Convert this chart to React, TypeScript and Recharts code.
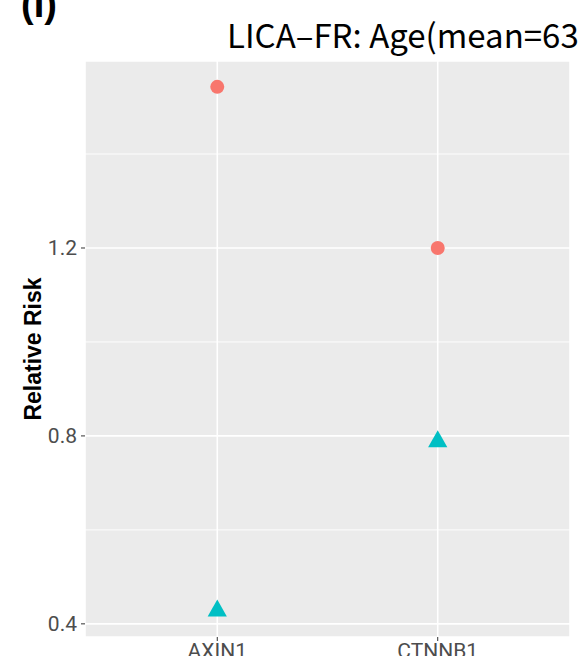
import React from 'react';
import {
  ScatterChart,
  Scatter,
  XAxis,
  YAxis,
  CartesianGrid,
  ReferenceLine,
} from 'recharts';

const genes = ['AXIN1', 'CTNNB1'];
const circleRisk = [1.543, 1.2];
const triangleRisk = [0.428, 0.788];
const yTicks = [0.4, 0.8, 1.2];
const minorTicks = [0.6, 1.0, 1.4];

const W = 580;
const H = 656;

const circleData = genes.map((g, i) => ({ x: i + 1, y: circleRisk[i], gene: g }));
const triangleData = genes.map((g, i) => ({ x: i + 1, y: triangleRisk[i], gene: g }));

const Dot = (props: any) => (
  <circle cx={props.cx} cy={props.cy} r={7} fill="#F8766D" />
);

// centroid sits on the data point, like R's filled triangle
const Tri = (props: any) => {
  const { cx, cy } = props;
  const d = `M${cx},${cy - 11.3} L${cx + 9.6},${cy + 5.7} L${cx - 9.6},${cy + 5.7} Z`;
  return <path d={d} fill="#00BFC4" />;
};

const tickStyle = { fill: '#4D4D4D', fontSize: 21, fontFamily: 'Roboto, sans-serif' };

const App: React.FC = () => {
  return (
    <div style={{ position: 'absolute', left: 0, top: 0, width: W, height: H, background: '#fff', overflow: 'hidden' }}>
      <ScatterChart width={W} height={H} margin={{ top: 61, right: 10, bottom: 0, left: 0 }}>
        <CartesianGrid fill="#EBEBEB" stroke="#FFFFFF" strokeWidth={1.6} />
        {minorTicks.map((v) => (
          <ReferenceLine key={v} y={v} stroke="#FFFFFF" strokeWidth={0.9} />
        ))}
        <XAxis
          type="number"
          dataKey="x"
          domain={[0.4, 2.6]}
          ticks={[1, 2]}
          tickFormatter={(v: number) => genes[v - 1]}
          height={19}
          axisLine={false}
          tickSize={4}
          tickMargin={2}
          tickLine={{ stroke: '#333333', strokeWidth: 1 }}
          tick={tickStyle}
          interval={0}
        />
        <YAxis
          type="number"
          dataKey="y"
          domain={[0.372, 1.598]}
          ticks={yTicks}
          tickFormatter={(v: number) => v.toFixed(1)}
          width={85}
          axisLine={false}
          tickSize={4}
          tickMargin={4}
          tickLine={{ stroke: '#333333', strokeWidth: 1 }}
          tick={tickStyle}
          allowDataOverflow
          interval={0}
        />
        <Scatter data={circleData} shape={<Dot />} isAnimationActive={false} />
        <Scatter data={triangleData} shape={<Tri />} isAnimationActive={false} />
      </ScatterChart>
      <svg width={W} height={H} style={{ position: 'absolute', left: 0, top: 0, pointerEvents: 'none' }}>
        <text x={21} y={17} fontSize={38} fontWeight="bold" fontFamily="'Liberation Sans', Arial, sans-serif" fill="#000">
          (I)
        </text>
        <text x={227} y={48} fontSize={33} fontFamily="'Noto Sans CJK SC', 'Noto Sans', sans-serif" fill="#000">
          LICA–FR: Age(mean=63
        </text>
        <text
          transform="translate(33,349) rotate(-90)"
          textAnchor="middle"
          dominantBaseline="central"
          fontSize={23}
          fontWeight="bold"
          fontFamily="'Liberation Sans', Arial, sans-serif"
          fill="#000"
        >
          Relative Risk
        </text>
      </svg>
    </div>
  );
};

export default App;
